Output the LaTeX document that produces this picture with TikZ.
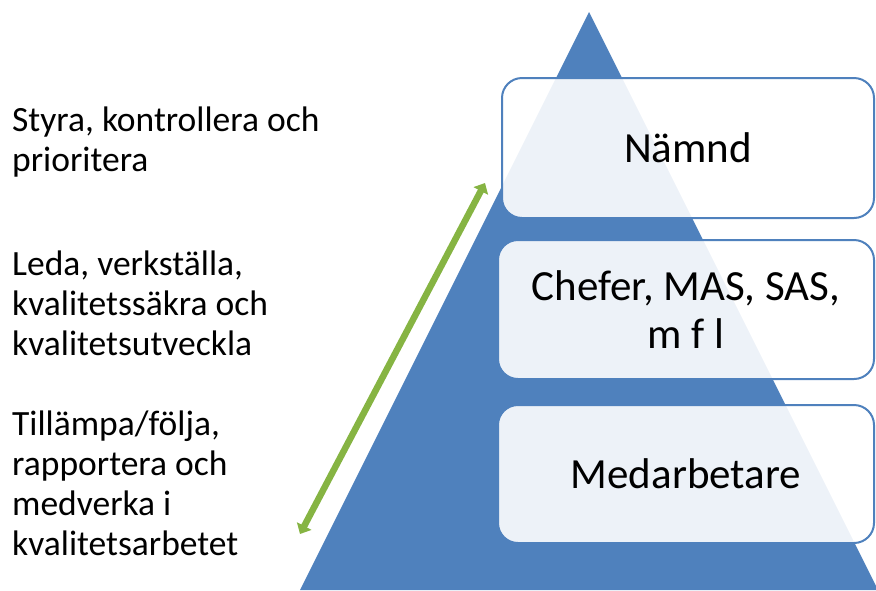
\documentclass[tikz,border=0pt]{standalone}
\usepackage{fontspec}
\setmainfont{Carlito}
\usetikzlibrary{arrows.meta}
\definecolor{pyrblue}{HTML}{4F81BD}
\definecolor{arrgreen}{HTML}{86B443}
\tikzset{
  levelbox/.style={draw=pyrblue, line width=2pt, fill=white, fill opacity=0.9, text opacity=1,
    rounded corners=20pt, inner sep=0pt, align=center,
    font=\fontsize{43}{48}\selectfont},
  sidetext/.style={anchor=north west, inner sep=0pt, align=left,
    font=\fontsize{35.5}{40}\selectfont}
}
\begin{document}
\begin{tikzpicture}[x=1pt,y=-1pt]
\useasboundingbox (0,0) rectangle (876,590);
\clip (0,0) rectangle (876,590);
% pyramid
\fill[pyrblue] (589,12) -- (878,590) -- (300,590) -- cycle;
% level boxes
\node[levelbox, minimum width=372pt, minimum height=140pt] (namnd) at (688,148) {Nämnd};
\node[levelbox, minimum width=376pt, minimum height=139pt] (chefer) at (686,309.5) {Chefer, MAS, SAS,\\m f l};
\node[levelbox, minimum width=376pt, minimum height=138pt] (medarb) at (686,474) {Medarbetare};
% green double arrow
\coordinate (atop) at (485,183);
\coordinate (abot) at (300,534);
\draw[arrgreen, line width=6.5pt, {Triangle[width=16pt,length=9pt]}-{Triangle[width=16pt,length=9pt]}] (abot) -- (atop);
% side texts
\node[sidetext] (t1) at (12,107) {Styra, kontrollera och\\prioritera};
\node[sidetext] (t2) at (12,251) {Leda, verkställa,\\kvalitetssäkra och\\kvalitetsutveckla};
\node[sidetext] (t3) at (12,411) {Tillämpa/följa,\\rapportera och\\medverka i\\kvalitetsarbetet};
\end{tikzpicture}
\end{document}
